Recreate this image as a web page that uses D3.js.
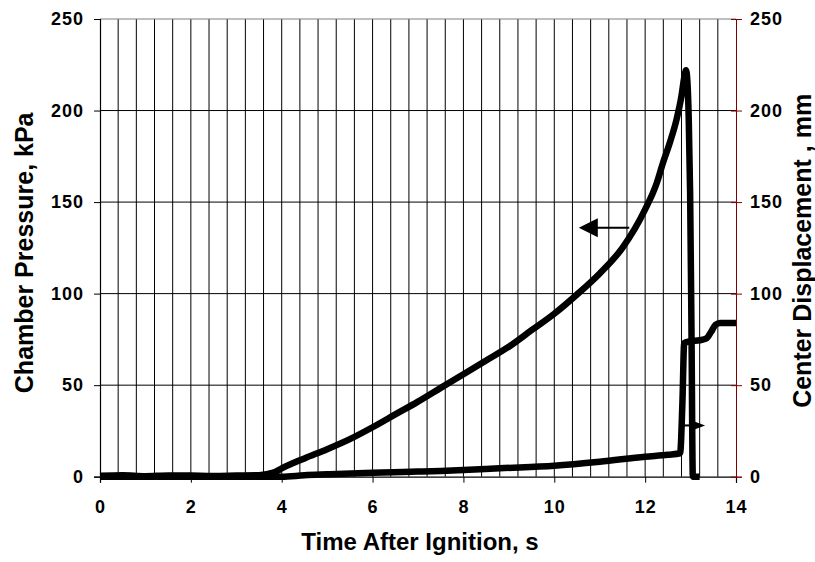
<!DOCTYPE html>
<html>
<head>
<meta charset="utf-8">
<script src="https://cdn.jsdelivr.net/npm/d3@7"></script>
<style>
  html, body { margin: 0; padding: 0; background: #fff; }
  svg { display: block; }
  text { font-family: "Liberation Sans", Arial, sans-serif; font-weight: bold; fill: #000; }
</style>
</head>
<body>
<svg id="chart" width="815" height="562"></svg>
<script>
// ---- data ----
const pressureTime = [0,0.5,1,1.5,2,2.5,3,3.5,3.7,3.85,4.0,4.5,5.0,5.5,6.0,6.5,7.0,7.5,8.0,8.5,9.0,9.5,10.0,10.5,11.0,11.5,12.0,12.25,12.4,12.55,12.69,12.8,12.86,12.9,12.93,12.96,12.99,13.02,13.05,13.2];
const pressureKPa  = [0.5,0.8,0.3,0.7,0.6,0.4,0.6,0.8,1.5,2.5,4.5,10,15,20.5,27,34,41,48.5,56,63.5,71,80,89,99.5,111,125,146,160,172,183,195,208,218,222,216,195,155,80,0,0];

const dispTime = [0,2,4,4.5,5,6,7,7.5,8,8.8,10,11,12,12.5,12.77,12.82,12.86,13.0,13.2,13.35,13.45,13.55,13.65,14];
const dispMM   = [0,0,0,0.8,1.3,2.2,2.8,3.1,3.6,4.6,6,8.2,10.9,12,12.8,40,73,74,74.5,75.5,79,83,84,84];

const xTicks = [0,2,4,6,8,10,12,14];
const yTicksLeft = [0,50,100,150,200,250];
const yTicksRight = [0,50,100,150,200,250];

const xTitle = "Time After Ignition, s";
const yTitleLeft = "Chamber Pressure, kPa";
const yTitleRight = "Center Displacement , mm";

// annotation arrows (data coordinates)
const arrowLeft  = {from: [11.65, 136], to: [10.54, 136]};
const arrowRight = {from: [12.75, 28],  to: [13.32, 28]};

// ---- layout ----
const L = 100, R = 736, T = 19, B = 476.7;

const svg = d3.select("#chart");
const x = d3.scaleLinear().domain([0, 14]).range([L, R]);
const yL = d3.scaleLinear().domain([0, 250]).range([B, T]);
const yR = d3.scaleLinear().domain([0, 250]).range([B, T]);

// gridlines
const vGrid = d3.range(1, 35).map(i => +(i * 0.4).toFixed(1));
svg.append("g").selectAll("line").data(vGrid).join("line")
  .attr("x1", d => x(d)).attr("x2", d => x(d))
  .attr("y1", T).attr("y2", B)
  .attr("stroke", "#000").attr("stroke-width", 1);
svg.append("g").selectAll("line").data([50,100,150,200]).join("line")
  .attr("x1", L).attr("x2", R)
  .attr("y1", d => yL(d)).attr("y2", d => yL(d))
  .attr("stroke", "#000").attr("stroke-width", 1);
// top border
svg.append("line").attr("x1", L).attr("x2", R).attr("y1", yL(250)).attr("y2", yL(250))
  .attr("stroke", "#808080").attr("stroke-width", 1.2);

// axes
const fs = 18;
const gx = svg.append("g").attr("transform", `translate(0,${B})`)
  .call(d3.axisBottom(x).tickValues(xTicks).tickFormat(d3.format("d")).tickSize(6).tickPadding(18));
gx.selectAll("text").style("font-size", fs + "px").attr("dy", "0.71em").style("letter-spacing", "1px");

const gyl = svg.append("g").attr("transform", `translate(${L},0)`)
  .call(d3.axisLeft(yL).tickValues(yTicksLeft).tickSize(6).tickPadding(10));
gyl.selectAll("text").style("font-size", fs + "px").style("letter-spacing", "1px");

const dark = "#800000";
const gyr = svg.append("g").attr("transform", `translate(${R},0)`)
  .call(d3.axisRight(yR).tickValues(yTicksRight).tickSize(6).tickPadding(8));
gyr.selectAll("text").style("font-size", fs + "px").style("letter-spacing", "1px");
gyr.selectAll(".tick line").attr("x1", -5).attr("x2", 6).attr("stroke", dark);
gyr.select(".domain").attr("stroke", dark);

[gx, gyl].forEach(g => { g.select(".domain").attr("stroke", "#000").attr("stroke-width", 1.2); g.selectAll(".tick line").attr("stroke", "#000"); });

// titles
svg.append("text").attr("x", (L + R) / 2 + 2).attr("y", 550)
  .attr("text-anchor", "middle").style("font-size", "24px").text(xTitle);
svg.append("text").attr("transform", `translate(33,${(T + B) / 2 + 5}) rotate(-90)`)
  .attr("text-anchor", "middle").style("font-size", "25px").text(yTitleLeft);
svg.append("text").attr("transform", `translate(811,${(T + B) / 2 + 3}) rotate(-90)`)
  .attr("text-anchor", "middle").style("font-size", "25px").text(yTitleRight);

// curves
const pData = pressureTime.map((t, i) => [t, pressureKPa[i]]);
const dData = dispTime.map((t, i) => [t, dispMM[i]]);
const lineL = d3.line().x(d => x(d[0])).y(d => yL(d[1])).curve(d3.curveMonotoneX);
const lineR = d3.line().x(d => x(d[0])).y(d => yR(d[1])).curve(d3.curveMonotoneX);

svg.append("path").datum(dData).attr("d", lineR)
  .attr("fill", "none").attr("stroke", "#000").attr("stroke-width", 6.5)
  .attr("stroke-linejoin", "round").attr("stroke-linecap", "butt");
svg.append("path").datum(pData).attr("d", lineL)
  .attr("fill", "none").attr("stroke", "#000").attr("stroke-width", 6.5)
  .attr("stroke-linejoin", "round").attr("stroke-linecap", "butt");

// arrows
function arrow(a, headLen, headHalf, w) {
  const x1 = x(a.from[0]), y1 = yL(a.from[1]);
  const x2 = x(a.to[0]), y2 = yL(a.to[1]);
  const dir = Math.sign(x2 - x1);
  svg.append("line").attr("x1", x1).attr("y1", y1).attr("x2", x2 - dir * headLen * 0.8).attr("y2", y2)
    .attr("stroke", "#000").attr("stroke-width", w);
  svg.append("path")
    .attr("d", `M${x2},${y2} L${x2 - dir * headLen},${y2 - headHalf} L${x2 - dir * headLen},${y2 + headHalf} Z`)
    .attr("fill", "#000");
}
arrow(arrowLeft, 19, 9.5, 2);
arrow(arrowRight, 12, 4.5, 2);
</script>
</body>
</html>
